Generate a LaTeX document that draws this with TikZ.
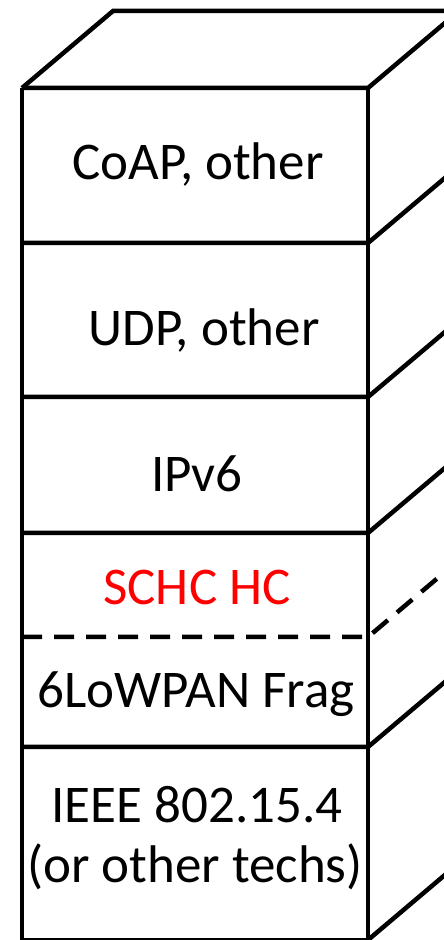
\documentclass[tikz,border=0pt]{standalone}
\usepackage{fontspec}
\setmainfont{Carlito}
\begin{document}
\begin{tikzpicture}[x=1pt,y=1pt,
  edge/.style={line width=4.5pt,line cap=butt,line join=miter},
  dashedge/.style={edge,dash pattern=on 20pt off 12pt},
  layer/.style={inner sep=0pt,anchor=base,font=\fontsize{53}{60}\selectfont},
  hclabel/.style={layer,text=red}]
\useasboundingbox (0,0) rectangle (444,940);
\clip (0,0) rectangle (444,940);
% front face corners (y measured upward)
\coordinate (tl) at (22,852);
\coordinate (tr) at (368,852);
\coordinate (bl) at (22,0);
\coordinate (br) at (368,0);
% top face
\draw[edge] (tl) -- ++(91,77) -- ++(400,0);
\draw[edge] (tl) -- (tr) -- ++(91,77);
% front face outline
\draw[edge] (tl) -- (bl) -- (br) -- (tr);
% layer boundaries and their receding side edges
\foreach \y in {697,543,407,193}{
  \draw[edge] (22,\y) -- (368,\y) -- ++(91,77);
}
\draw[dashedge] (22,303) -- (368,303) -- ++(91,77);
\draw[edge] (br) -- ++(91,77);
% layer names
\node[layer] (coap) at (198,760) {CoAP, other};
\node[layer] (udp)  at (204,594) {UDP, other};
\node[layer] (ip)   at (197,448) {IPv6};
\node[hclabel] (schc) at (197,335) {SCHC HC};
\node[layer] (frag) at (196,232) {6LoWPAN Frag};
\node[layer] (mac1) at (197,117) {IEEE 802.15.4};
\node[layer] (mac2) at (195,57) {(or other techs)};
\end{tikzpicture}
\end{document}
